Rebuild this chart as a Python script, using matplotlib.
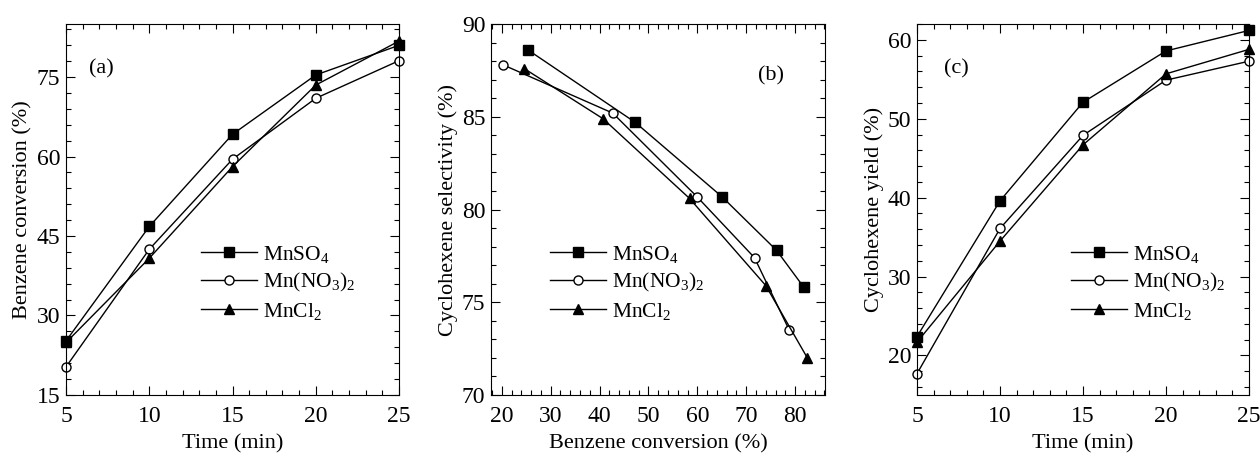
import matplotlib
matplotlib.use("Agg")
import matplotlib.pyplot as plt
from matplotlib.ticker import MultipleLocator

plt.rcParams['font.family'] = ['Liberation Serif', 'DejaVu Serif']
plt.rcParams['mathtext.fontset'] = 'custom'
plt.rcParams['mathtext.rm'] = 'Liberation Serif'
plt.rcParams['mathtext.default'] = 'regular'
plt.rcParams['font.size'] = 15

# Data
time = [5, 10, 15, 20, 25]
labels = ['MnSO$_4$', 'Mn(NO$_3$)$_2$', 'MnCl$_2$']

conv_mnso4 = [25.2, 46.8, 64.2, 75.4, 81.0]
conv_mnno3 = [20.3, 42.5, 59.5, 71.0, 78.1]
conv_mncl2 = [24.9, 40.8, 58.1, 73.5, 81.8]

# (b) selectivity vs conversion
selx_mnso4 = [25.4, 47.3, 65.0, 76.2, 81.8]
sely_mnso4 = [88.6, 84.7, 80.7, 77.8, 75.8]
selx_mnno3 = [20.3, 42.7, 59.9, 71.7, 78.8]
sely_mnno3 = [87.8, 85.2, 80.7, 77.4, 73.5]
selx_mncl2 = [24.6, 40.7, 58.4, 74.0, 82.5]
sely_mncl2 = [87.6, 84.9, 80.6, 75.9, 72.0]

yield_mnso4 = [22.4, 39.6, 52.1, 58.6, 61.2]
yield_mnno3 = [17.7, 36.1, 47.9, 54.9, 57.3]
yield_mncl2 = [21.7, 34.5, 46.7, 55.7, 58.8]

styles = [dict(marker='s', mfc='black', mec='black'),
          dict(marker='o', mfc='white', mec='black'),
          dict(marker='^', mfc='black', mec='black')]

fig = plt.figure(figsize=(12.6, 4.55), dpi=100)
bottom, height = 0.132, 0.815
ax1 = fig.add_axes([0.0524, bottom, 0.2643, height])
ax2 = fig.add_axes([0.3897, bottom, 0.2650, height])
ax3 = fig.add_axes([0.7278, bottom, 0.2635, height])


def style_axis(ax):
    ax.tick_params(which='both', direction='in', top=True, right=True,
                   labelsize=17)
    ax.tick_params(axis='x', pad=8)
    ax.tick_params(axis='y', pad=4)
    ax.tick_params(which='major', length=6.5, width=0.8)
    ax.tick_params(which='minor', length=3.5, width=0.8)
    for s in ax.spines.values():
        s.set_linewidth(0.8)


def add_legend(ax, x, y):
    ax.legend(loc='upper left', bbox_to_anchor=(x / 1260, 1 - y / 455),
              bbox_transform=fig.transFigure, frameon=False, fontsize=15.5,
              handlelength=2.6, handletextpad=0.3, labelspacing=0.3,
              borderpad=0, borderaxespad=0)


# (a)
for yv, st, lab in zip([conv_mnso4, conv_mnno3, conv_mncl2], styles, labels):
    ax1.plot(time, yv, color='black', lw=1.0, ms=6.5, label=lab, **st)
ax1.set_xlim(5, 25)
ax1.set_ylim(15, 85)
ax1.xaxis.set_major_locator(MultipleLocator(5))
ax1.xaxis.set_minor_locator(MultipleLocator(1))
ax1.yaxis.set_major_locator(MultipleLocator(15))
ax1.yaxis.set_minor_locator(MultipleLocator(3))
ax1.set_xlabel('Time (min)', fontsize=16, labelpad=5)
ax1.set_ylabel('Benzene conversion (%)', fontsize=16, labelpad=3)
ax1.text(0.07, 0.88, '(a)', transform=ax1.transAxes, fontsize=16, va='center')
style_axis(ax1)
add_legend(ax1, 201, 244)

# (b)
for xv, yv, st, lab in zip([selx_mnso4, selx_mnno3, selx_mncl2],
                           [sely_mnso4, sely_mnno3, sely_mncl2], styles, labels):
    ax2.plot(xv, yv, color='black', lw=1.0, ms=6.5, label=lab, **st)
ax2.set_xlim(17.8, 86.1)
ax2.set_ylim(70, 90)
ax2.xaxis.set_major_locator(MultipleLocator(10))
ax2.xaxis.set_minor_locator(MultipleLocator(2))
ax2.yaxis.set_major_locator(MultipleLocator(5))
ax2.yaxis.set_minor_locator(MultipleLocator(1))
ax2.set_xlabel('Benzene conversion (%)', fontsize=16, labelpad=5)
ax2.set_ylabel('Cyclohexene selectivity (%)', fontsize=16, labelpad=3)
ax2.text(0.80, 0.86, '(b)', transform=ax2.transAxes, fontsize=16, va='center')
style_axis(ax2)
add_legend(ax2, 550, 244)

# (c)
for yv, st, lab in zip([yield_mnso4, yield_mnno3, yield_mncl2], styles, labels):
    ax3.plot(time, yv, color='black', lw=1.0, ms=6.5, label=lab, **st)
ax3.set_xlim(5, 25)
ax3.set_ylim(15, 62)
ax3.xaxis.set_major_locator(MultipleLocator(5))
ax3.xaxis.set_minor_locator(MultipleLocator(1))
ax3.yaxis.set_major_locator(MultipleLocator(10))
ax3.yaxis.set_minor_locator(MultipleLocator(2))
ax3.set_xlabel('Time (min)', fontsize=16, labelpad=5)
ax3.set_ylabel('Cyclohexene yield (%)', fontsize=16, labelpad=3)
ax3.text(0.08, 0.88, '(c)', transform=ax3.transAxes, fontsize=16, va='center')
style_axis(ax3)
add_legend(ax3, 1071, 244)

for ax in (ax1, ax2, ax3):
    for ln in ax.lines:
        ln.set_clip_on(False)

fig.savefig('out.png', dpi=100)
